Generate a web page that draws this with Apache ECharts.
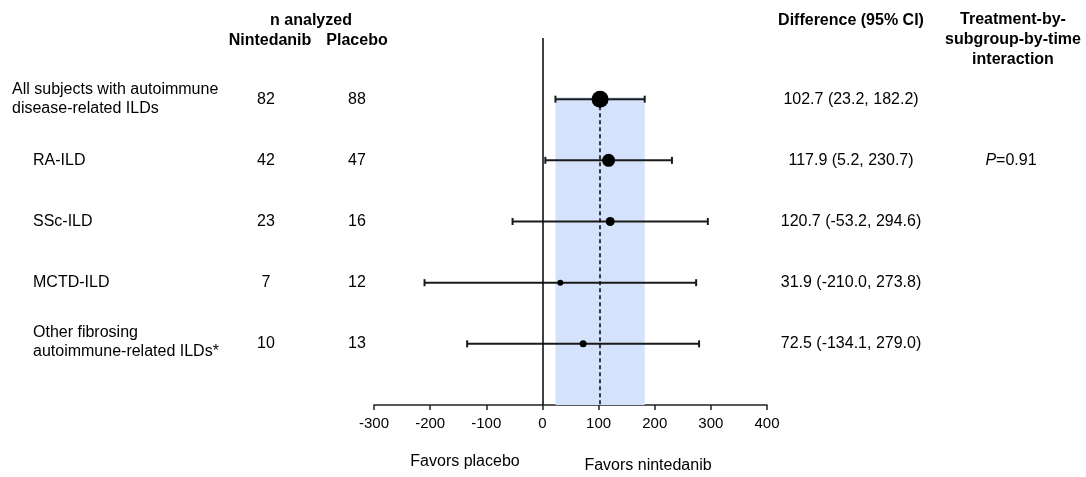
<!DOCTYPE html>
<html>
<head>
<meta charset="utf-8">
<script src="https://cdn.jsdelivr.net/npm/echarts@6/dist/echarts.min.js"></script>
<style>html,body{margin:0;padding:0;background:#fff}#c{width:1086px;height:477px}</style>
</head>
<body>
<div id="c"></div>
<script>
const subgroups = ['All subjects with autoimmune\ndisease-related ILDs', 'RA-ILD', 'SSc-ILD', 'MCTD-ILD', 'Other fibrosing\nautoimmune-related ILDs*'];
const nNintedanib = [82, 42, 23, 7, 10];
const nPlacebo = [88, 47, 16, 12, 13];
const diffValues = [102.7, 117.9, 120.7, 31.9, 72.5];
const ciLow = [23.2, 5.2, -53.2, -210.0, -134.1];
const ciHigh = [182.2, 230.7, 294.6, 273.8, 279.0];
const ciLabels = ['102.7 (23.2, 182.2)', '117.9 (5.2, 230.7)', '120.7 (-53.2, 294.6)', '31.9 (-210.0, 273.8)', '72.5 (-134.1, 279.0)'];
const interactionP = ['', '0.91', '', '', ''];
const xTicks = [-300, -200, -100, 0, 100, 200, 300, 400];

// styling (not data)
const markerSizes = [17, 13, 9, 6, 7];
const FONT = 'Liberation Sans, Arial, sans-serif';
const FS = 16;
const rows = subgroups.map((s, i) => i + 1);

const chart = echarts.init(document.getElementById('c'), null, {renderer: 'canvas'});
const option = {
  animation: false,
  backgroundColor: '#fff',
  grid: {left: 374, right: 319, top: 38, bottom: 72, containLabel: false},
  xAxis: {
    type: 'value', min: xTicks[0], max: xTicks[xTicks.length - 1], interval: 100,
    axisLine: {show: true, onZero: false, lineStyle: {color: '#222', width: 1.5}},
    axisTick: {show: true, length: 5, lineStyle: {color: '#222', width: 1.5}},
    axisLabel: {color: '#000', fontSize: 15, fontFamily: FONT, margin: 11},
    splitLine: {show: false}
  },
  yAxis: {type: 'value', min: 0, max: 6, inverse: true, show: false},
  series: [
    {
      type: 'custom',
      name: 'ci',
      data: rows.map((r, i) => [ciLow[i], ciHigh[i], r]),
      renderItem: function (params, api) {
        const a = api.coord([api.value(0), api.value(2)]);
        const b = api.coord([api.value(1), api.value(2)]);
        const st = {stroke: '#1a1a1a', lineWidth: 2};
        return {type: 'group', children: [
          {type: 'line', shape: {x1: a[0], y1: a[1], x2: b[0], y2: b[1]}, style: st},
          {type: 'line', shape: {x1: a[0], y1: a[1] - 3.5, x2: a[0], y2: a[1] + 3.5}, style: st},
          {type: 'line', shape: {x1: b[0], y1: b[1] - 3.5, x2: b[0], y2: b[1] + 3.5}, style: st}
        ]};
      },
      z: 3,
      markArea: {
        silent: true,
        itemStyle: {color: '#d4e2fb'},
        data: [[{xAxis: ciLow[0], yAxis: 0.97}, {xAxis: ciHigh[0], yAxis: 6}]]
      },
      markLine: {
        silent: true, symbol: 'none', label: {show: false},
        data: [
          [{coord: [0, 0], lineStyle: {color: '#000', width: 1.5, type: 'solid'}}, {coord: [0, 6]}],
          [{coord: [diffValues[0], 1], lineStyle: {color: '#000', width: 1.5, type: [4, 3]}}, {coord: [diffValues[0], 6]}]
        ]
      }
    },
    {
      type: 'scatter',
      name: 'diff',
      data: rows.map((r, i) => [diffValues[i], r]),
      symbol: 'circle',
      symbolSize: function (v, p) { return markerSizes[p.dataIndex]; },
      itemStyle: {color: '#000', opacity: 1},
      z: 5
    },
    {
      type: 'custom',
      name: 'text',
      clip: false,
      silent: true,
      data: rows.map((r, i) => [0, r]),
      renderItem: function (params, api) {
        const i = params.dataIndex;
        const y = api.coord([0, api.value(1)])[1];
        const base = {font: FS + 'px ' + FONT, fill: '#000', verticalAlign: 'middle', lineHeight: 19};
        const ch = [
          {type: 'text', style: Object.assign({}, base, {text: subgroups[i], x: i === 0 ? 12 : 33, y: i === 4 ? y - 2 : y, align: 'left'})},
          {type: 'text', style: Object.assign({}, base, {text: String(nNintedanib[i]), x: 266, y: y, align: 'center'})},
          {type: 'text', style: Object.assign({}, base, {text: String(nPlacebo[i]), x: 357, y: y, align: 'center'})},
          {type: 'text', style: Object.assign({}, base, {text: ciLabels[i], x: 851, y: y, align: 'center'})}
        ];
        if (interactionP[i]) {
          ch.push({type: 'text', style: Object.assign({}, base, {
            text: '{i|P}=' + interactionP[i], x: 1011, y: y, align: 'center',
            rich: {i: {font: 'italic ' + FS + 'px ' + FONT, fill: '#000'}}
          })});
        }
        return {type: 'group', children: ch};
      }
    }
  ],
  graphic: [
    {type: 'text', style: {text: 'n analyzed', x: 311, y: 21, align: 'center', verticalAlign: 'middle', font: 'bold ' + FS + 'px ' + FONT, fill: '#000'}},
    {type: 'text', style: {text: 'Nintedanib', x: 270, y: 41, align: 'center', verticalAlign: 'middle', font: 'bold ' + FS + 'px ' + FONT, fill: '#000'}},
    {type: 'text', style: {text: 'Placebo', x: 357, y: 41, align: 'center', verticalAlign: 'middle', font: 'bold ' + FS + 'px ' + FONT, fill: '#000'}},
    {type: 'text', style: {text: 'Difference (95% CI)', x: 851, y: 21, align: 'center', verticalAlign: 'middle', font: 'bold ' + FS + 'px ' + FONT, fill: '#000'}},
    {type: 'text', style: {text: 'Treatment-by-\nsubgroup-by-time\ninteraction', x: 1013, y: 40, align: 'center', verticalAlign: 'middle', lineHeight: 20, font: 'bold ' + FS + 'px ' + FONT, fill: '#000'}},
    {type: 'text', style: {text: 'Favors placebo', x: 465, y: 462, align: 'center', verticalAlign: 'middle', font: FS + 'px ' + FONT, fill: '#000'}},
    {type: 'text', style: {text: 'Favors nintedanib', x: 648, y: 466, align: 'center', verticalAlign: 'middle', font: FS + 'px ' + FONT, fill: '#000'}}
  ]
};
chart.setOption(option);
</script>
</body>
</html>
